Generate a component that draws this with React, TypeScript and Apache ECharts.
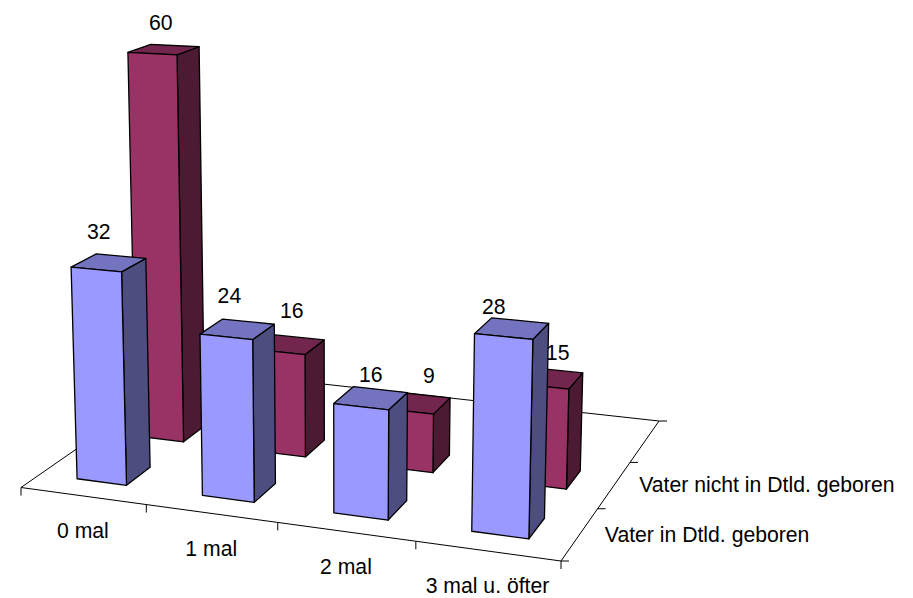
import React, { useEffect, useRef } from "react";
import * as echarts from "echarts";

const CATEGORIES = ["0 mal", "1 mal", "2 mal", "3 mal u. öfter"];
const ROWS = ["Vater in Dtld. geboren", "Vater nicht in Dtld. geboren"];
const VATER_IN = [32, 24, 16, 28];
const VATER_NICHT = [60, 16, 9, 15];
const Y_MAX = 60;
const DEPTH_ROWS = 3;

// layout of the 3D scene, in pixels
const FLOOR = [[21, 487.5], [561, 561], [659, 421], [191, 369.5]];
const VANISH = [343, 9880];
const HEIGHT_K = 0.000695;
const BAR_INSET = 0.3;
const LABEL_NUDGE_IN = [[-10, -31], [-8, -34], [0, -23], [-18, -22]];
const LABEL_NUDGE_NICHT = [[-3, -27], [2, -34], [13, -28], [9, -26]];

const FONT = { fontFamily: "'Liberation Sans', Arial, sans-serif", fontSize: 21.2, fill: "#000" };
const STROKE = { stroke: "#000", lineWidth: 1.3, lineJoin: "round" };

function makeProjector() {
  const [[x0, y0], [x1, y1], [x2, y2], [x3, y3]] = FLOOR;
  const dx1 = x1 - x2, dx2 = x3 - x2, sx = x0 - x1 + x2 - x3;
  const dy1 = y1 - y2, dy2 = y3 - y2, sy = y0 - y1 + y2 - y3;
  const den = dx1 * dy2 - dx2 * dy1;
  const g = (sx * dy2 - dx2 * sy) / den;
  const h = (dx1 * sy - sx * dy1) / den;
  const a = x1 - x0 + g * x1, b = x3 - x0 + h * x3;
  const d = y1 - y0 + g * y1, e = y3 - y0 + h * y3;
  return (u: number, v: number, val = 0) => {
    const s = u / CATEGORIES.length, t = v / DEPTH_ROWS, k = -HEIGHT_K * val;
    const W = g * s + h * t + 1 + k;
    return [(a * s + b * t + x0 + k * VANISH[0]) / W, (d * s + e * t + y0 + k * VANISH[1]) / W];
  };
}
const P = makeProjector();

function textEl(x: number, y: number, text: string, align = "center") {
  return { type: "text", x, y, style: { ...FONT, text, align, verticalAlign: "middle" } };
}

function lineEl(a: number[], b: number[], stroke = "#000") {
  return { type: "line", shape: { x1: a[0], y1: a[1], x2: b[0], y2: b[1] }, style: { stroke, lineWidth: 1 } };
}

function floorItem() {
  const n = CATEGORIES.length;
  const children: any[] = [
    lineEl(P(0, 0), P(n, 0)),
    lineEl(P(n, 0), P(n, DEPTH_ROWS)),
    lineEl(P(n, DEPTH_ROWS), P(0, DEPTH_ROWS)),
    lineEl(P(0, DEPTH_ROWS), P(0, 0)),
  ];
  for (let i = 0; i <= n; i++) {
    const p = P(i, 0);
    children.push(lineEl(p, [p[0], p[1] + 8]));
  }
  for (let j = 0; j <= DEPTH_ROWS; j++) {
    const p = P(n, j);
    children.push(lineEl(p, [p[0] + 8, p[1]]));
  }
  CATEGORIES.forEach((c, i) => {
    const p = P(i + 0.5, 0);
    children.push(textEl(p[0], p[1] + 35, c));
  });
  ROWS.forEach((r, j) => {
    const p = P(n, j + 0.5);
    children.push(textEl(p[0] + 25, p[1], r, "left"));
  });
  return { type: "group", children };
}

function barRenderer(row: number, front: string, top: string, side: string, nudge: number[][]) {
  return (_: any, api: any) => {
    const i = api.value(0), value = api.value(1);
    const pos = api.coord([i, value]);
    const base = api.coord([i, 0]);
    const span = api.coord([i, 0])[1] - api.coord([i, Y_MAX])[1];
    const band = api.size([1, 0])[0];
    const u = base[0] / band - 0.5;
    const h = ((base[1] - pos[1]) / span) * Y_MAX;
    const u0 = u + BAR_INSET, u1 = u + 1 - BAR_INSET;
    const v0 = row + BAR_INSET, v1 = row + 1 - BAR_INSET;
    const poly = (pts: number[][], fill: string) => ({
      type: "polygon",
      shape: { points: pts },
      style: { fill, ...STROKE },
    });
    const tc = P(u + 0.5, row + 0.5, h);
    return {
      type: "group",
      children: [
        poly([P(u1, v0), P(u1, v1), P(u1, v1, h), P(u1, v0, h)], side),
        poly([P(u0, v0, h), P(u1, v0, h), P(u1, v1, h), P(u0, v1, h)], top),
        poly([P(u0, v0), P(u1, v0), P(u1, v0, h), P(u0, v0, h)], front),
        textEl(tc[0] + nudge[i][0], tc[1] + nudge[i][1], String(value)),
      ],
    };
  };
}

export default function App() {
  const ref = useRef<HTMLDivElement>(null);
  useEffect(() => {
    const chart = echarts.init(ref.current!, null, { renderer: "svg" });
    const common = { type: "custom", silent: true, clip: false, encode: { x: 0, y: 1 } };
    chart.setOption({
      animation: false,
      backgroundColor: "#fff",
      grid: { left: 0, right: 0, top: 0, bottom: 0 },
      xAxis: { type: "category", data: CATEGORIES, show: false },
      yAxis: { type: "value", min: 0, max: Y_MAX, show: false },
      series: [
        { ...common, data: [[0, 0]], renderItem: floorItem },
        {
          ...common,
          name: ROWS[1],
          data: VATER_NICHT.map((v, i) => [i, v]),
          renderItem: barRenderer(1, "#993366", "#73264D", "#4D1A33", LABEL_NUDGE_NICHT),
        },
        {
          ...common,
          name: ROWS[0],
          data: VATER_IN.map((v, i) => [i, v]),
          renderItem: barRenderer(0, "#9999FF", "#7373BF", "#4D4D80", LABEL_NUDGE_IN),
        },
      ],
    });
    return () => chart.dispose();
  }, []);
  return <div ref={ref} style={{ position: "fixed", left: 0, top: 0, width: 913, height: 598 }} />;
}
